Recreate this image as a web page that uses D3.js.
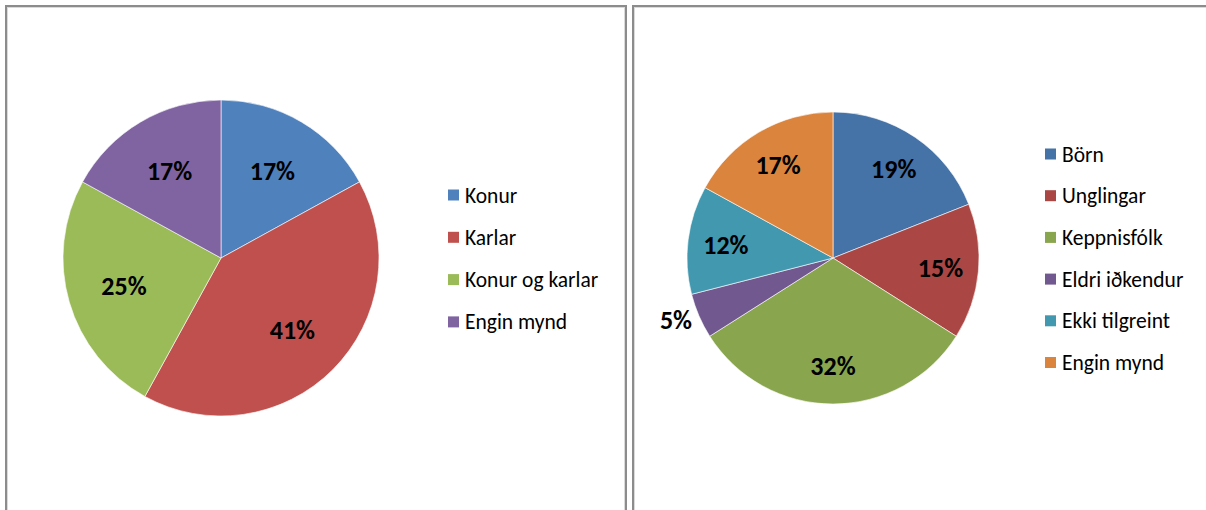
<!DOCTYPE html>
<html lang="is">
<head>
  <meta charset="UTF-8">
  <title>Myndir - skipting</title>
  <script src="https://d3js.org/d3.v7.min.js"></script>
  <style>
    body {
      margin: 0;
      padding: 0;
      background: #fff;
      font-family: Carlito, Calibri, Lato, sans-serif;
    }
    .pct {
      font-weight: bold;
      font-size: 26px;
      fill: #000;
    }
    .legend text {
      font-size: 21.5px;
      fill: #000;
    }
  </style>
</head>
<body>
  <svg id="chart" width="1206" height="510"></svg>

  <script>
    // left chart
    const leftCategories = ["Konur", "Karlar", "Konur og karlar", "Engin mynd"];
    const leftValues = [17, 41, 25, 17];
    const leftColors = ["#4F81BD", "#C0504D", "#9BBB59", "#8064A2"];

    // right chart
    const rightCategories = ["Börn", "Unglingar", "Keppnisfólk", "Eldri iðkendur", "Ekki tilgreint", "Engin mynd"];
    const rightValues = [19, 15, 32, 5, 12, 17];
    const rightColors = ["#4572A7", "#AA4643", "#89A54E", "#71588F", "#4198AF", "#DB843D"];

    const svg = d3.select("#chart");

    // panel frames (the right one runs off the edge like in the original)
    function frame(x, w) {
      svg.append("rect")
        .attr("x", x).attr("y", 6)
        .attr("width", w).attr("height", 540)
        .attr("fill", "none")
        .attr("stroke", "#8c8c8c")
        .attr("stroke-width", 2);
      svg.append("rect")
        .attr("x", x + 1.5).attr("y", 7.5)
        .attr("width", w - 3).attr("height", 540)
        .attr("fill", "none")
        .attr("stroke", "#dadada")
        .attr("stroke-width", 1);
    }
    frame(6, 620);
    frame(633, 620);

    function drawPie(opts) {
      const { cats, vals, colors, cx, cy, r, labelR, legendX, legendY, legendStep } = opts;
      const total = d3.sum(vals);
      const color = d3.scaleOrdinal().domain(cats).range(colors);

      const pie = d3.pie().sort(null).value(d => d.value);
      const data = pie(cats.map((c, i) => ({ name: c, value: vals[i] })));

      const arc = d3.arc().innerRadius(0).outerRadius(r);
      const g = svg.append("g").attr("transform", `translate(${cx},${cy})`);

      g.selectAll("path")
        .data(data)
        .join("path")
        .attr("d", arc)
        .attr("fill", d => color(d.data.name))
        .attr("stroke", "#fff")
        .attr("stroke-width", 0.6);

      const inArc = d3.arc().innerRadius(labelR).outerRadius(labelR);
      const edgeArc = d3.arc().innerRadius(r).outerRadius(r);

      g.selectAll("text.pct")
        .data(data)
        .join("text")
        .attr("class", "pct")
        .each(function (d) {
          const share = d.data.value / total;
          const t = d3.select(this);
          if (share < 0.08) {
            // small slice: label sits outside, to the left of the edge
            const [x, y] = edgeArc.centroid(d);
            t.attr("x", x - 7).attr("y", y + 4).attr("text-anchor", "end");
          } else {
            const [x, y] = inArc.centroid(d);
            t.attr("x", x).attr("y", y).attr("text-anchor", "middle");
          }
        })
        .attr("dy", "0.35em")
        .text(d => Math.round(d.data.value / total * 100) + "%");

      const legend = svg.append("g").attr("class", "legend");
      const rows = legend.selectAll("g")
        .data(cats)
        .join("g")
        .attr("transform", (d, i) => `translate(${legendX},${legendY + i * legendStep})`);
      rows.append("rect")
        .attr("x", 0).attr("y", -5.5)
        .attr("width", 11).attr("height", 11)
        .attr("fill", d => color(d));
      rows.append("text")
        .attr("x", 17)
        .attr("y", 0)
        .attr("dy", "0.35em")
        .text(d => d);
    }

    drawPie({
      cats: leftCategories, vals: leftValues, colors: leftColors,
      cx: 221, cy: 258, r: 158, labelR: 101,
      legendX: 448, legendY: 195, legendStep: 42.3
    });

    drawPie({
      cats: rightCategories, vals: rightValues, colors: rightColors,
      cx: 833, cy: 258, r: 146, labelR: 108,
      legendX: 1045, legendY: 154, legendStep: 41.7
    });
  </script>
</body>
</html>
